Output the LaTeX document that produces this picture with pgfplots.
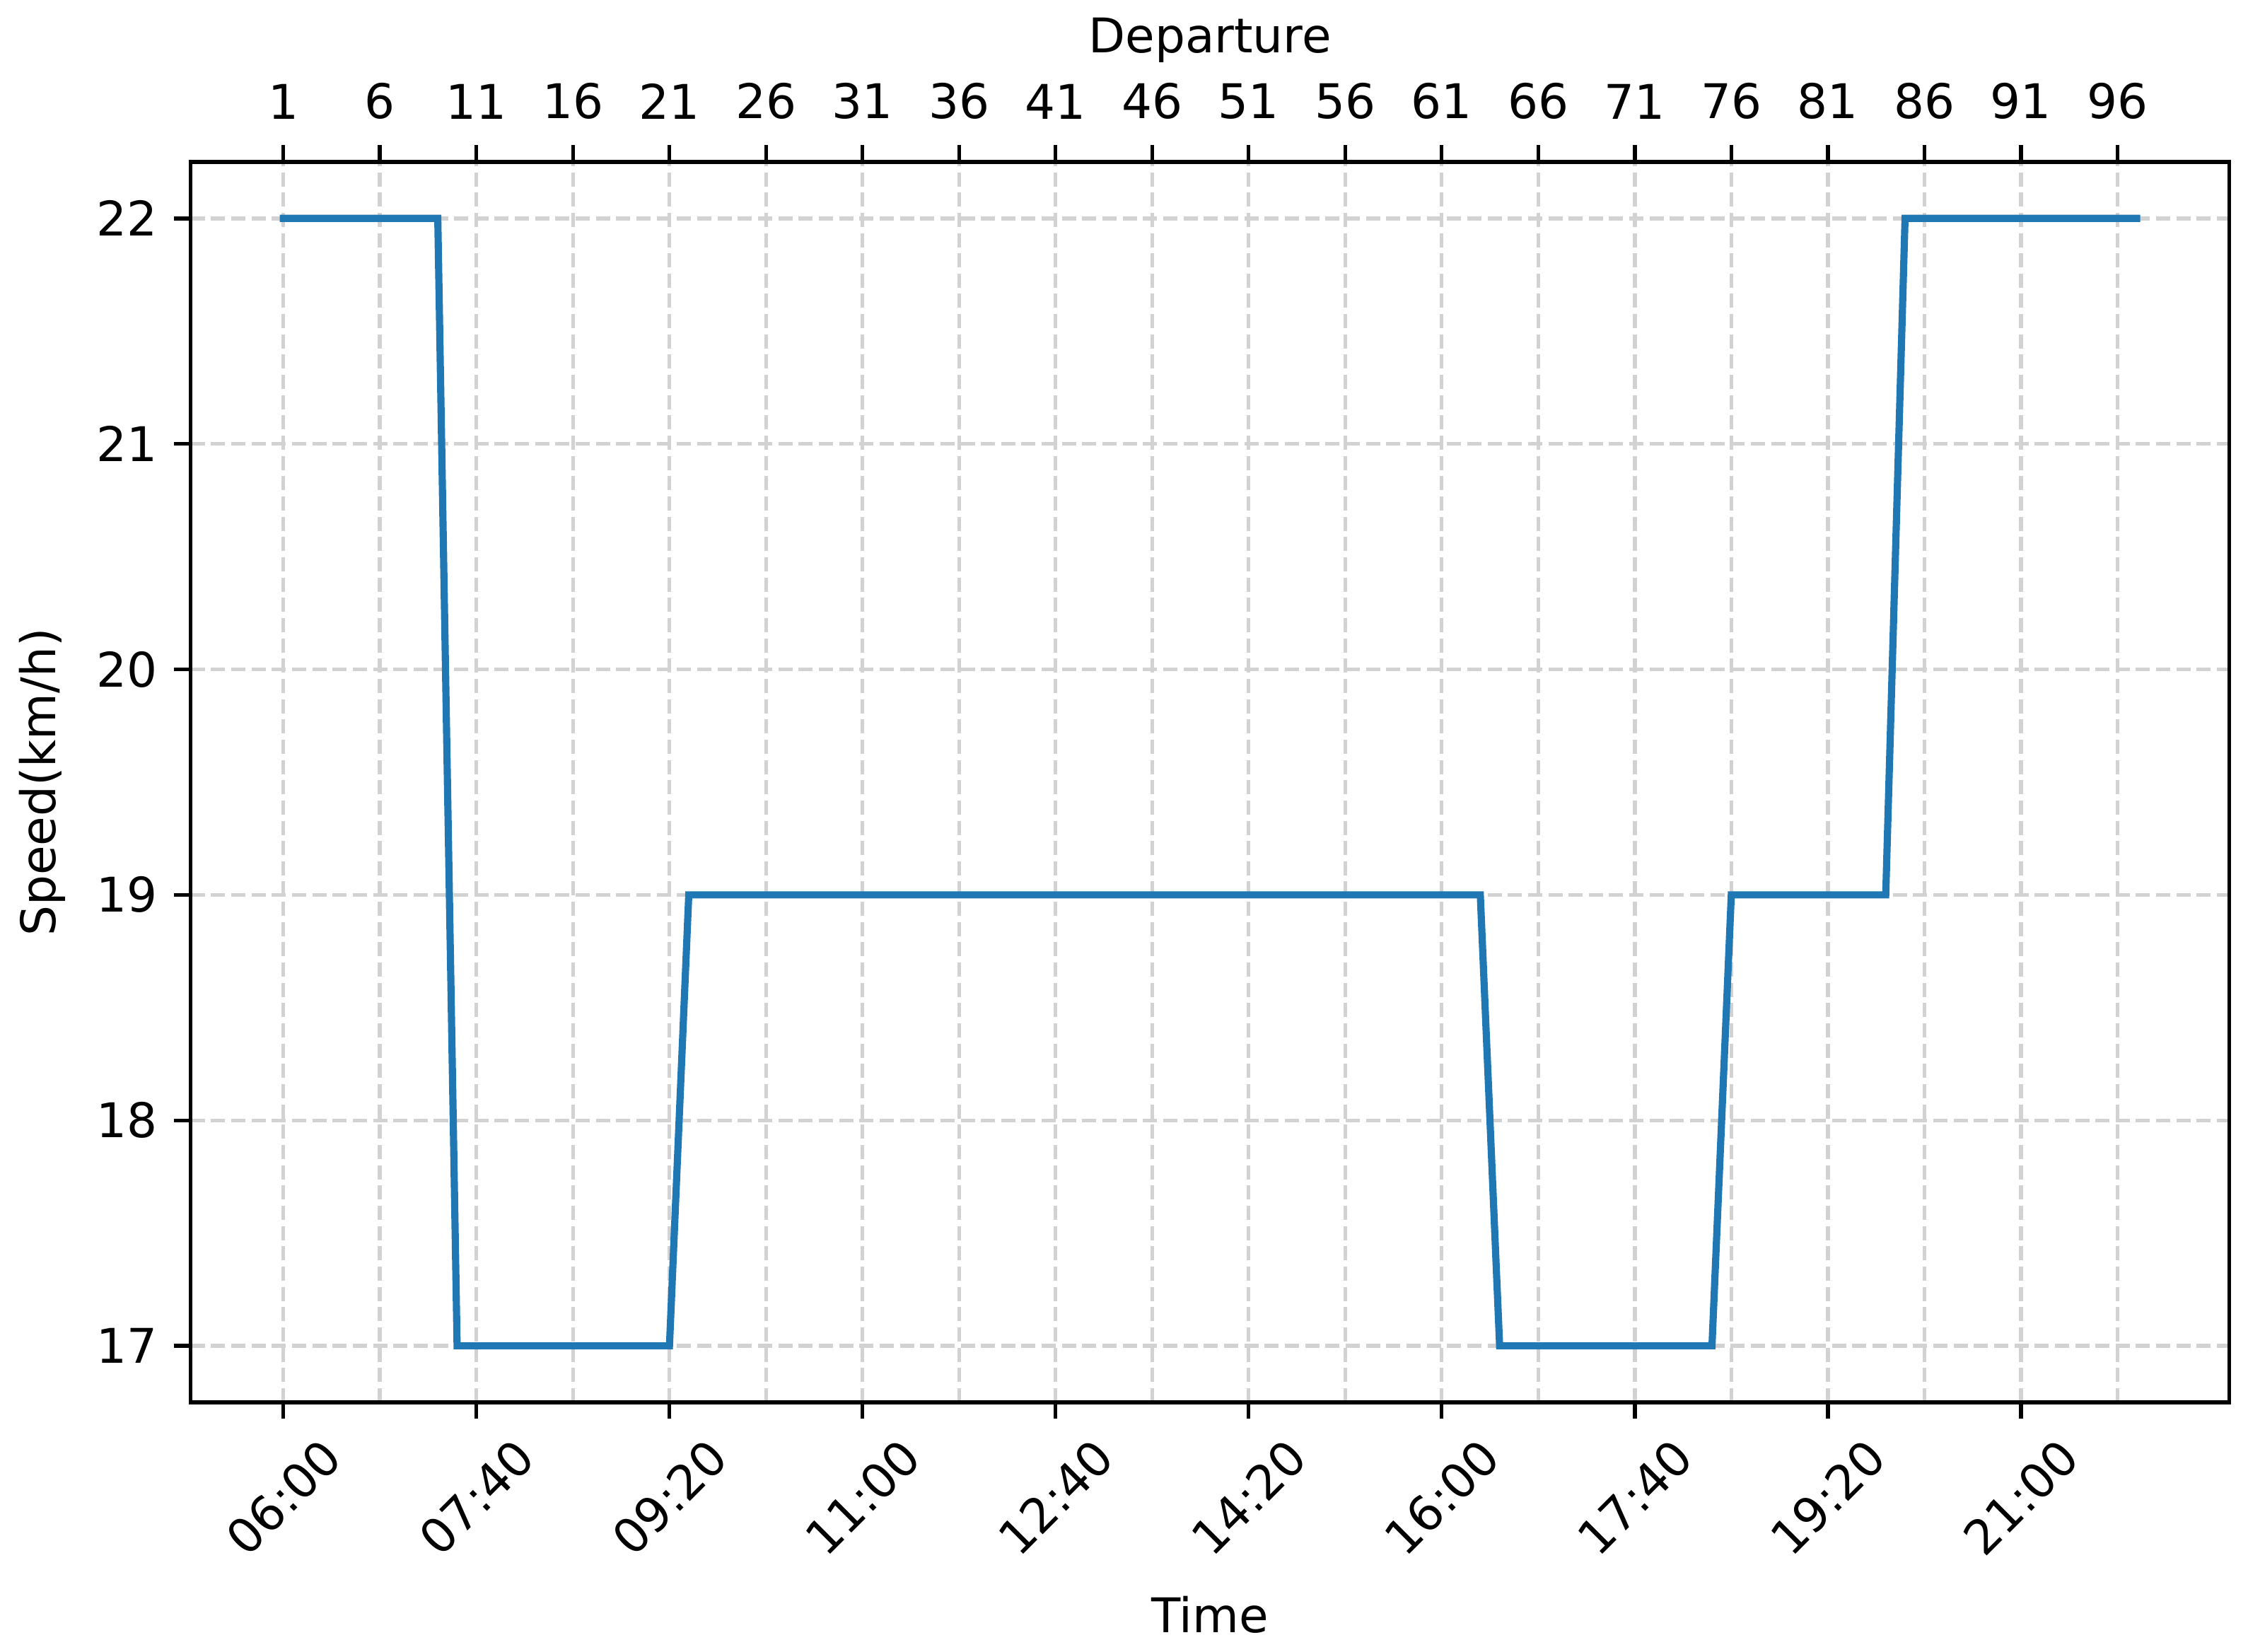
\documentclass[border=0pt]{standalone}
\usepackage{fontspec}
\setmainfont{DejaVu Sans}
\usepackage{graphicx}
\usepackage{pgfplots}
\pgfplotsset{compat=1.18}
\definecolor{mplblue}{HTML}{1F77B4}
\definecolor{gridc}{HTML}{D2D2D2}

\pgfplotstableread{
x y
1 22
2 22
3 22
4 22
5 22
6 22
7 22
8 22
9 22
10 17
11 17
12 17
13 17
14 17
15 17
16 17
17 17
18 17
19 17
20 17
21 17
22 19
23 19
24 19
25 19
26 19
27 19
28 19
29 19
30 19
31 19
32 19
33 19
34 19
35 19
36 19
37 19
38 19
39 19
40 19
41 19
42 19
43 19
44 19
45 19
46 19
47 19
48 19
49 19
50 19
51 19
52 19
53 19
54 19
55 19
56 19
57 19
58 19
59 19
60 19
61 19
62 19
63 19
64 17
65 17
66 17
67 17
68 17
69 17
70 17
71 17
72 17
73 17
74 17
75 17
76 19
77 19
78 19
79 19
80 19
81 19
82 19
83 19
84 19
85 22
86 22
87 22
88 22
89 22
90 22
91 22
92 22
93 22
94 22
95 22
96 22
97 22
}\speed

\pgfplotsset{
  common/.style={
    at={(0,0)}, anchor=south west,
    scale only axis, width=426.6pt, height=259.5pt,
    xmin=-3.8, xmax=101.8, ymin=16.75, ymax=22.25,
    tick align=outside, major tick length=3.5pt,
    every tick/.style={black, line width=0.8pt},
    axis line style={line width=0.8pt},
    grid style={gridc, line width=0.8pt, dash pattern=on 2.96pt off 1.28pt},
    /pgf/number format/assume math mode=true,
    tick label style={font=\fontsize{10}{12}\selectfont},
    label style={font=\fontsize{10}{12}\selectfont},
  }
}

\begin{document}
\begin{tikzpicture}
\path[use as bounding box] (-39.9pt,-52.2pt) rectangle (430.5pt,293.4pt);
\begin{axis}[common,
  axis x line*=top, axis y line=none,
  xtick={1,6,...,96}, xmajorgrids,
  xticklabel style={yshift=2pt},
  xlabel={Departure},
  xlabel style={at={(axis description cs:0.5,1)}, anchor=center, yshift=25.5pt},
]
\end{axis}
\begin{axis}[common,
  xtick pos=bottom, ytick pos=left,
  xtick={1,11,21,31,41,51,61,71,81,91},
  xticklabels={\rotatebox{45}{06:00},\rotatebox{45}{07:40},\rotatebox{45}{09:20},\rotatebox{45}{11:00},\rotatebox{45}{12:40},\rotatebox{45}{14:20},\rotatebox{45}{16:00},\rotatebox{45}{17:40},\rotatebox{45}{19:20},\rotatebox{45}{21:00}},
  xticklabel style={anchor=north},
  ytick={17,18,19,20,21,22}, ymajorgrids,
  xlabel={Time}, ylabel={Speed(km/h)},
  xlabel style={at={(axis description cs:0.5,0)}, anchor=center, yshift=-44.4pt},
  ylabel style={at={(axis description cs:0,0.5)}, anchor=center, yshift=31pt},
]
\addplot[mplblue, line width=1.5pt, line cap=rect] table {\speed};
\end{axis}
\end{tikzpicture}
\end{document}
